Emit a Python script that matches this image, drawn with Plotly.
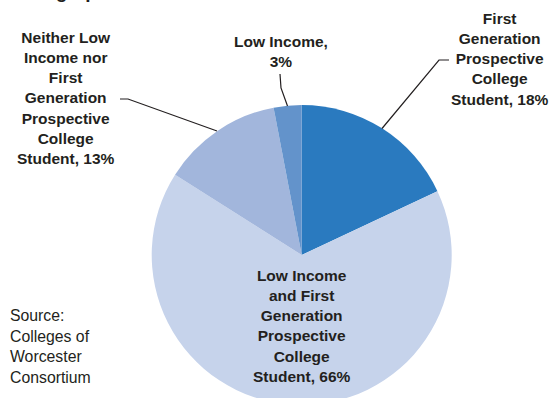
import plotly.graph_objects as go

# Share of prospective college students by group
labels = [
    "First<br>Generation<br>Prospective<br>College<br>Student",
    "Low Income<br>and First<br>Generation<br>Prospective<br>College<br>Student",
    "Neither Low<br>Income nor<br>First<br>Generation<br>Prospective<br>College<br>Student",
    "Low Income,<br>",
]
values = [18, 66, 13, 3]
colors = ["#2a7abf", "#c6d3eb", "#a2b6dc", "#6393cb"]
title_text = "Demographics"
source_text = "Source:<br>Colleges of<br>Worcester<br>Consortium"

W, H = 557, 410
FONT = "Liberation Sans, Arial, sans-serif"
INK = "#231f20"


def fx(x):
    return x / W


def fy(y):
    return 1 - y / H


# pie geometry (pixels from top-left)
cx, cy, r = 301.7, 255.0, 150.0

fig = go.Figure(
    go.Pie(
        labels=[l.replace("<br>", " ") for l in labels],
        values=values,
        sort=False,
        direction="clockwise",
        rotation=0,
        marker=dict(colors=colors, line=dict(width=0)),
        textinfo="none",
        hoverinfo="label+percent",
        showlegend=False,
        domain=dict(x=[fx(cx - r), fx(cx + r)], y=[fy(cy + r), fy(cy - r)]),
    )
)


def label_text(i):
    sep = "" if labels[i].endswith("<br>") else ", "
    return f"<b>{labels[i]}{sep}{values[i]}%</b>"


# label centres (pixels)
label_pos = [(500, 58.5), (301.5, 325.5), (66, 98.3), (280.5, 51.5)]
annotations = []
for i, (x, y) in enumerate(label_pos):
    annotations.append(
        dict(
            x=fx(x), y=fy(y), xref="paper", yref="paper",
            text=label_text(i), showarrow=False,
            xanchor="center", yanchor="middle", align="center",
            font=dict(family=FONT, size=15.5, color=INK),
        )
    )

annotations.append(
    dict(
        x=fx(8), y=fy(346.5), xref="paper", yref="paper",
        text=source_text, showarrow=False,
        xanchor="left", yanchor="middle", align="left",
        font=dict(family=FONT, size=15.8, color=INK),
    )
)

annotations.append(
    dict(
        x=fx(1), y=fy(-2 - 0.35 * 19), xref="paper", yref="paper",
        text=f"<b>{title_text}</b>", showarrow=False,
        xanchor="left", yanchor="middle", align="left",
        font=dict(family=FONT, size=19, color=INK),
    )
)

# leader lines from labels to slices
leaders = [
    [(449, 60), (439, 60), (382, 128.5)],
    [(120, 99), (128, 99), (217, 131)],
    [(280, 74), (281, 88), (287.5, 106)],
]
shapes = []
for pts in leaders:
    path = "M " + " L ".join(f"{fx(x):.5f},{fy(y):.5f}" for x, y in pts)
    shapes.append(
        dict(type="path", path=path, xref="paper", yref="paper",
             line=dict(color=INK, width=1.2))
    )

fig.update_layout(
    width=W,
    height=H,
    margin=dict(l=0, r=0, t=0, b=0),
    paper_bgcolor="white",
    plot_bgcolor="white",
    annotations=annotations,
    shapes=shapes,
)

fig.write_html(
    "out.html",
    post_script="document.documentElement.style.overflow='hidden';"
                "document.body.style.overflow='hidden';document.body.style.margin='0';",
)
